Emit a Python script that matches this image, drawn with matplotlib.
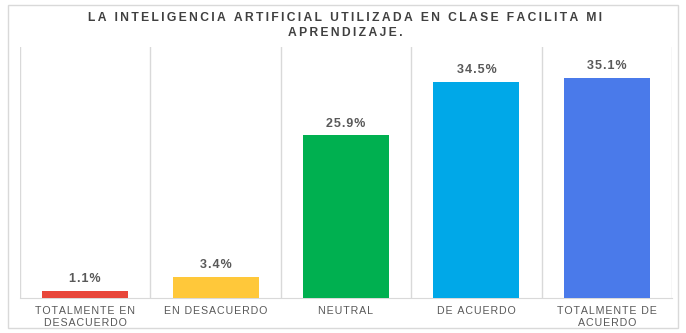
"""Bar chart: percepción sobre la IA en clase."""
import matplotlib.pyplot as plt
from matplotlib.patches import Rectangle

categories = ["TOTALMENTE EN\nDESACUERDO", "EN DESACUERDO", "NEUTRAL",
              "DE ACUERDO", "TOTALMENTE DE\nACUERDO"]
values = [1.1, 3.4, 25.9, 34.5, 35.1]
colors = ["#E8463A", "#FFC83A", "#00B050", "#00A8E8", "#4A7AEA"]
title = "LA INTELIGENCIA ARTIFICIAL UTILIZADA EN CLASE FACILITA MI\nAPRENDIZAJE."

W, H = 686, 333
plt.rcParams['font.family'] = ['Liberation Sans', 'DejaVu Sans']


def track(s, gap='\u200a'):
    # fake letter spacing by putting thin spaces between characters
    return '\n'.join(gap.join(line) for line in s.split('\n'))


fig = plt.figure(figsize=(W / 100, H / 100), dpi=100)
ax = fig.add_axes([20 / W, 35 / H, 652 / W, 251 / H])

x = range(len(values))
bars = ax.bar(x, values, width=0.66, color=colors, zorder=3)

for bar, v in zip(bars, values):
    ax.text(bar.get_x() + bar.get_width() / 2, v + 0.9, track(f"{v}%"),
            ha='center', va='bottom', fontsize=9, weight='bold', color='#595959')

ax.set_xlim(-0.5, len(values) - 0.5)
ax.set_ylim(0, 40)
ax.set_yticks([])
ax.set_xticks(list(x))
ax.set_xticklabels([track(c) for c in categories], fontsize=7.7, color='#595959',
                   linespacing=1.15)
ax.tick_params(axis='x', length=0, pad=6)

# vertical separators between categories
for b in [i - 0.5 for i in range(len(values) + 1)]:
    ax.axvline(b, color='#D9D9D9', linewidth=1, zorder=1)

for s in ['top', 'left', 'right']:
    ax.spines[s].set_visible(False)
ax.spines['bottom'].set_color('#D9D9D9')

fig.text(345 / W, 1 - 25.5 / H, track(title, '\u2009'), ha='center', va='center',
         fontsize=8.7, weight='bold', color='#404040', linespacing=1.25)

# outer frame
fig.patches.append(Rectangle((8 / W, 5 / H), 670 / W, 323 / H,
                             transform=fig.transFigure, fill=False,
                             edgecolor='#D9D9D9', linewidth=1))

fig.savefig("out.png", dpi=100)
